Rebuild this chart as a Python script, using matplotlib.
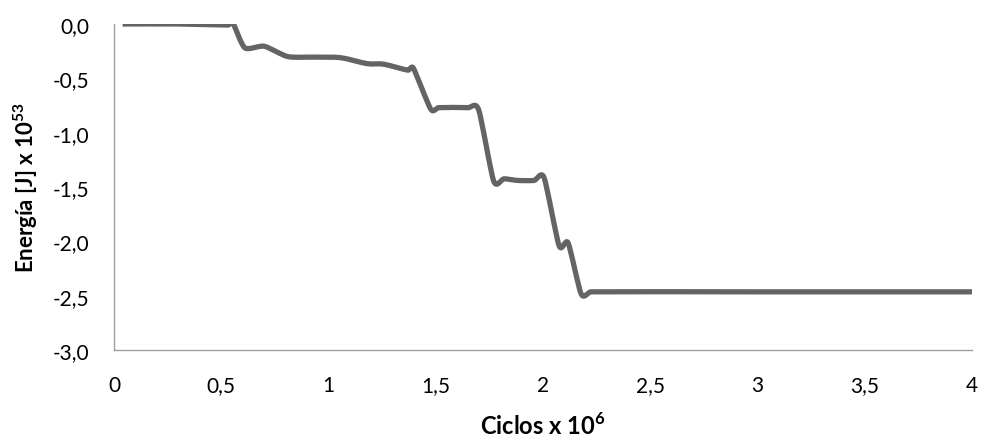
import matplotlib.pyplot as plt
import numpy as np
from matplotlib.path import Path
from matplotlib.patches import PathPatch

# 数据：从图上读取 (Ciclos x 10^6, Energía x 10^53)
ciclos = [0.04, 0.30, 0.53, 0.556, 0.61, 0.70, 0.81, 0.93, 1.056, 1.18, 1.257, 1.37,
          1.395, 1.477, 1.514, 1.65, 1.70, 1.77, 1.818, 1.883, 1.958, 2.005, 2.075, 2.117,
          2.178, 2.224, 3.00, 4.00]
energia = [0.00, 0.00, -0.01, 0.00, -0.22, -0.205, -0.30, -0.305, -0.31, -0.365, -0.37, -0.425,
           -0.405, -0.785, -0.77, -0.77, -0.79, -1.445, -1.425, -1.44, -1.44, -1.415, -2.04, -2.015,
           -2.485, -2.465, -2.465, -2.465]

xticks = [0, 0.5, 1, 1.5, 2, 2.5, 3, 3.5, 4]
xtick_labels = ['0', '0,5', '1', '1,5', '2', '2,5', '3', '3,5', '4']
yticks = [0, -0.5, -1.0, -1.5, -2.0, -2.5, -3.0]
ytick_labels = ['0,0', '-0,5', '-1,0', '-1,5', '-2,0', '-2,5', '-3,0']

plt.rcParams['font.family'] = ['Lato', 'DejaVu Sans']
plt.rcParams['mathtext.fontset'] = 'custom'
plt.rcParams['mathtext.rm'] = 'Lato'
plt.rcParams['mathtext.bf'] = 'Lato:bold'


def smooth_path(x, y, t=0.12):
    # 类似Excel的平滑线：Catmull-Rom 转 Bezier，控制点不超出本段x范围，避免打圈
    p = np.column_stack([x, y])
    n = len(p)
    verts = [p[0]]
    codes = [Path.MOVETO]
    for i in range(n - 1):
        p0 = p[max(i - 1, 0)]
        p1 = p[i]
        p2 = p[i + 1]
        p3 = p[min(i + 2, n - 1)]
        dx = p2[0] - p1[0]
        m1 = (p2 - p0) * t
        m2 = (p3 - p1) * t
        if m1[0] > dx / 3:
            m1 = m1 * (dx / 3) / m1[0]
        if m2[0] > dx / 3:
            m2 = m2 * (dx / 3) / m2[0]
        verts += [p1 + m1, p2 - m2, p2]
        codes += [Path.CURVE4] * 3
    return Path(verts, codes)


fig = plt.figure(figsize=(9.89, 4.39), dpi=100)
ax = fig.add_axes([0.1153, 0.2005, 0.8675, 0.7426])

patch = PathPatch(smooth_path(ciclos, energia), facecolor='none', edgecolor='#646464',
                  linewidth=3.8, joinstyle='round', capstyle='butt')
ax.add_patch(patch)

ax.set_xlim(0, 4)
ax.set_ylim(-3.0, 0.0)
ax.set_xticks(xticks)
ax.set_xticklabels(xtick_labels)
ax.set_yticks(yticks)
ax.set_yticklabels(ytick_labels)
ax.tick_params(axis='both', length=0, labelsize=15, colors='black')
ax.tick_params(axis='y', pad=18)
ax.tick_params(axis='x', pad=18)

for s in ['top', 'right']:
    ax.spines[s].set_visible(False)
for s in ['left', 'bottom']:
    ax.spines[s].set_color('#a0a0a0')
    ax.spines[s].set_linewidth(1.0)

ax.set_xlabel(r'Ciclos x 10$^{\mathbf{6}}$', fontsize=17, fontweight='bold', labelpad=12)
ax.set_ylabel(r'Energía [J] x 10$^{\mathbf{53}}$', fontsize=16, fontweight='bold', labelpad=9)

fig.savefig('out.png', dpi=100)
